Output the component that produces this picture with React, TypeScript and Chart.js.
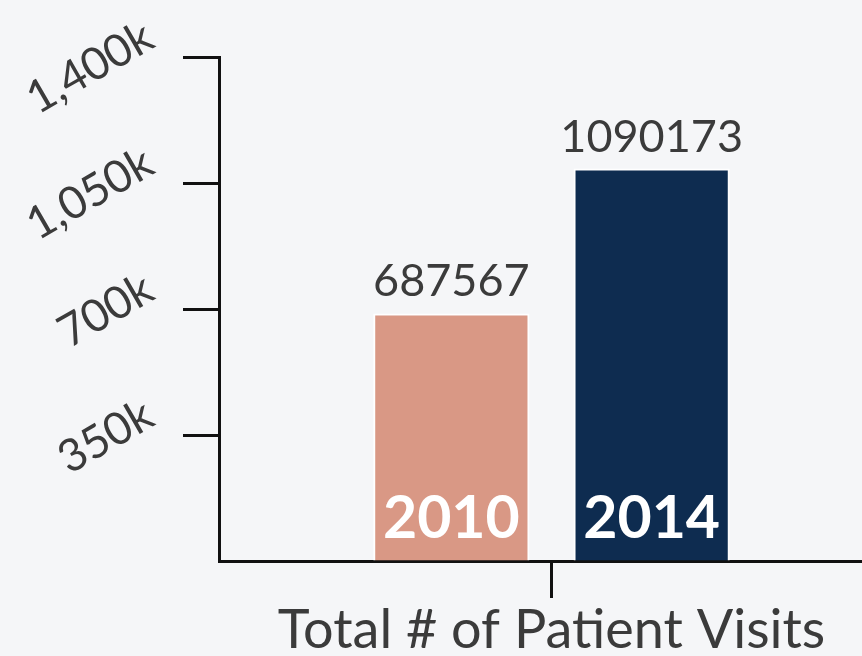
import React, { useEffect, useRef } from "react";
import { Chart, registerables } from "chart.js";

Chart.register(...registerables);

const categories = ["Total # of Patient Visits"];
const seriesNames = ["2010", "2014"];
const visits2010 = [687567];
const visits2014 = [1090173];
const yTickValues = [350000, 700000, 1050000, 1400000];

const FONT = "Lato, 'Open Sans', sans-serif";
const BG = "#f5f6f8";

const barLabels = {
  id: "barLabels",
  afterDatasetsDraw(chart: any) {
    const ctx = chart.ctx;
    const base = chart.scales.y.getPixelForValue(0);
    chart.data.datasets.forEach((ds: any, i: number) => {
      const meta = chart.getDatasetMeta(i);
      meta.data.forEach((el: any, j: number) => {
        const v = ds.data[j];
        ctx.save();
        ctx.textAlign = "center";
        ctx.textBaseline = "alphabetic";
        ctx.fillStyle = "#3b3b3b";
        ctx.font = `45px ${FONT}`;
        ctx.fillText(String(v), el.x, el.y - 17);
        ctx.fillStyle = "#ffffff";
        ctx.font = `bold 59px ${FONT}`;
        ctx.fillText(ds.label, el.x, base - 23);
        ctx.restore();
      });
    });
  },
};

export default function App() {
  const ref = useRef<HTMLCanvasElement | null>(null);
  useEffect(() => {
    document.body.style.margin = "0";
    document.body.style.background = BG;
    const chart = new Chart(ref.current!, {
      type: "bar",
      data: {
        labels: categories,
        datasets: [
          {
            label: seriesNames[0],
            data: visits2010,
            backgroundColor: "#d99885",
            borderColor: "#ffffff",
            borderWidth: 2,
          },
          {
            label: seriesNames[1],
            data: visits2014,
            backgroundColor: "#0e2c50",
            borderColor: "#ffffff",
            borderWidth: 2,
          },
        ],
      },
      options: {
        responsive: false,
        animation: false,
        categoryPercentage: 0.6024,
        barPercentage: 0.78,
        layout: { padding: { top: 57, left: 0, right: 0, bottom: 0 } },
        plugins: { legend: { display: false }, tooltip: { enabled: false } },
        scales: {
          x: {
            grid: {
              display: true,
              drawOnChartArea: false,
              drawTicks: true,
              offset: false,
              tickLength: 37,
              tickWidth: 3,
              tickColor: "#111111",
            },
            border: { display: true, color: "#111111", width: 3 },
            ticks: {
              color: "#3b3b3b",
              font: { family: FONT, size: 54 },
              padding: 0,
              maxRotation: 0,
              autoSkip: false,
            },
            afterFit: (s: any) => {
              s.height = 95;
              s.paddingLeft = 0;
              s.paddingRight = 0;
            },
          },
          y: {
            min: 0,
            max: 1400000,
            afterBuildTicks: (s: any) => {
              s.ticks = [0, ...yTickValues].map((v) => ({ value: v }));
            },
            grid: {
              display: true,
              drawOnChartArea: false,
              drawTicks: true,
              tickLength: 36,
              tickWidth: 3,
              tickColor: (c: any) => (c.tick && c.tick.value === 0 ? "rgba(0,0,0,0)" : "#111111"),
            },
            border: { display: true, color: "#111111", width: 3 },
            ticks: {
              color: "#3b3b3b",
              font: { family: FONT, size: 45, lineHeight: 1.2 },
              minRotation: 30,
              maxRotation: 30,
              padding: 20,
              autoSkip: false,
              callback: (v: any) =>
                v === 0 ? "" : [(Number(v) / 1000).toLocaleString("en-US") + "k", ""],
            },
            afterFit: (s: any) => {
              s.width = 219;
              s.paddingTop = 0;
              s.paddingBottom = 0;
            },
          },
        },
      },
      plugins: [barLabels],
    });
    return () => chart.destroy();
  }, []);
  return (
    <div style={{ position: "fixed", left: 0, top: 0, width: 862, height: 656, overflow: "hidden", background: BG }}>
      <canvas ref={ref} width={884} height={656} style={{ display: "block" }} />
    </div>
  );
}
